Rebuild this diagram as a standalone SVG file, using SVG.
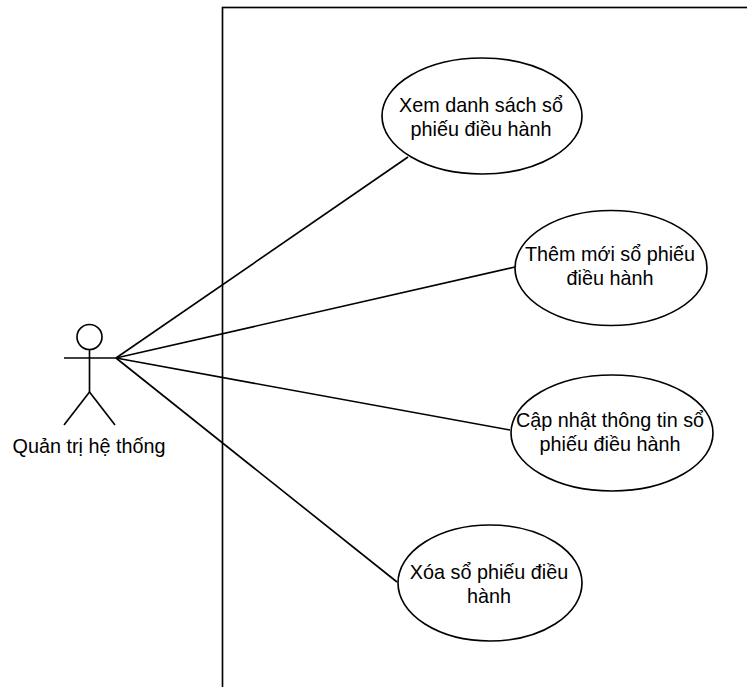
<svg xmlns="http://www.w3.org/2000/svg" width="747" height="687" viewBox="0 0 747 687">
<style>
.s{fill:none;stroke:#000;stroke-width:1.65}
.e{fill:#fff;stroke:#000;stroke-width:1.65}
.t{font-family:"Liberation Sans",Arial,sans-serif;font-size:19.8px;fill:#000;text-anchor:middle}
</style>
<rect x="0" y="0" width="747" height="687" fill="#fff"/>
<g id="boundary">
<rect x="222.5" y="7.5" width="700" height="800" class="s"/>
</g>
<g id="connectors">
<line x1="116" y1="358" x2="408" y2="157" class="s"/>
<line x1="116" y1="358" x2="515" y2="267" class="s"/>
<line x1="116" y1="358" x2="510" y2="430" class="s"/>
<line x1="116" y1="358" x2="397" y2="582" class="s"/>
</g>
<g id="actor">
<circle cx="89.5" cy="337" r="12.5" class="s"/>
<line x1="89.5" y1="349.5" x2="89.5" y2="392" class="s"/>
<line x1="64" y1="358" x2="116" y2="358" class="s"/>
<line x1="89.5" y1="392" x2="64" y2="425" class="s"/>
<line x1="89.5" y1="392" x2="115" y2="425" class="s"/>
<text x="89" y="453" class="t">Quản trị hệ thống</text>
</g>
<g id="uc1">
<ellipse cx="482" cy="116" rx="100" ry="58" class="e"/>
<text x="481" y="111.5" class="t">Xem danh sách sổ</text>
<text x="481" y="136" class="t">phiếu điều hành</text>
</g>
<g id="uc2">
<ellipse cx="611" cy="268" rx="96" ry="57.5" class="e"/>
<text x="610" y="261" class="t">Thêm mới sổ phiếu</text>
<text x="610" y="285" class="t">điều hành</text>
</g>
<g id="uc3">
<ellipse cx="612" cy="433" rx="101" ry="58" class="e"/>
<text x="610" y="426.5" class="t">Cập nhật thông tin sổ</text>
<text x="610" y="450.5" class="t">phiếu điều hành</text>
</g>
<g id="uc4">
<ellipse cx="490" cy="583" rx="92" ry="58" class="e"/>
<text x="489" y="578.5" class="t">Xóa sổ phiếu điều</text>
<text x="489" y="602.5" class="t">hành</text>
</g>
</svg>
